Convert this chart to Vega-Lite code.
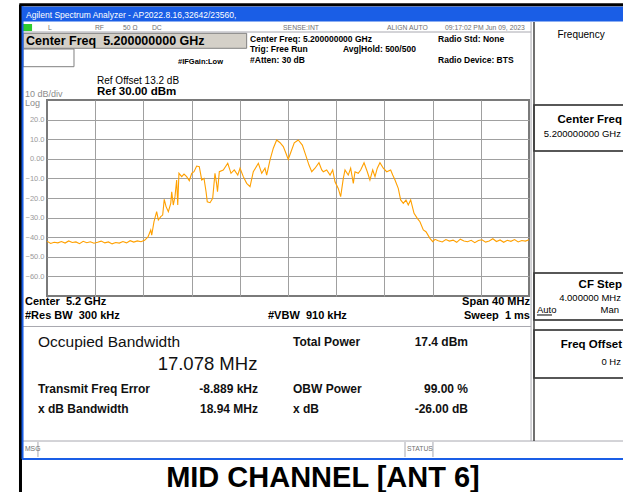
{
"$schema": "https://vega.github.io/schema/vega-lite/v6.json",
"width": 482, "height": 196,
"autosize": {"type": "none"},
"padding": {"left": 47, "top": 100, "right": 94, "bottom": 196},
"background": "white",
"config": {"view": {"stroke": "#7a7a7a", "strokeWidth": 2}, "font": "Liberation Sans", "text": {"font": "Liberation Sans"}},
"encoding": {
"x": {"field":"x","type":"quantitative","scale":{"domain":[-20,20],"nice":false,"zero":false},"axis":{"values":[-16,-12,-8,-4,0,4,8,12,16],"labels":false,"ticks":false,"domain":false,"title":null,"grid":true,"gridColor":"#a0a0a0","gridOpacity":1}},
"y": {"field":"y","type":"quantitative","scale":{"domain":[-70,30],"nice":false,"zero":false},"axis":{"values":[-60,-50,-40,-30,-20,-10,0,10,20],"ticks":false,"domain":false,"title":null,"grid":true,"gridColor":"#a0a0a0","gridOpacity":1,"labelColor":"#9a9a9a","labelFontSize":7.5,"labelFont":"Liberation Sans","labelPadding":3,"labelExpr":"datum.value == 0 ? '0.00' : format(datum.value, '.1f')"}}
},
"datasets": {
"trace": [
{"x":-20,"y":-42.0},{"x":-19.7,"y":-43.2},{"x":-19.4,"y":-42.6},{"x":-19.1,"y":-42.9},{"x":-18.8,"y":-42.2},{"x":-18.5,"y":-43.0},{"x":-18.2,"y":-41.9},{"x":-17.9,"y":-42.7},{"x":-17.6,"y":-42.4},{"x":-17.3,"y":-43.3},{"x":-17.0,"y":-42.1},{"x":-16.7,"y":-42.8},{"x":-16.4,"y":-42.3},{"x":-16.1,"y":-43.1},{"x":-15.8,"y":-42.6},{"x":-15.5,"y":-42.0},{"x":-15.2,"y":-42.9},{"x":-14.9,"y":-42.4},{"x":-14.6,"y":-43.4},{"x":-14.3,"y":-42.7},{"x":-14.0,"y":-43.0},{"x":-13.7,"y":-42.2},{"x":-13.4,"y":-42.9},{"x":-13.1,"y":-41.8},{"x":-12.8,"y":-42.5},{"x":-12.5,"y":-41.9},{"x":-12.2,"y":-42.3},{"x":-11.9,"y":-41.6},
{"x":-11.62,"y":-39.9},{"x":-11.39,"y":-36.3},{"x":-11.31,"y":-38.9},{"x":-11.12,"y":-32.1},{"x":-10.9,"y":-27.0},{"x":-10.76,"y":-31.2},{"x":-10.56,"y":-29.5},{"x":-10.4,"y":-28.7},{"x":-10.27,"y":-20.7},{"x":-10.12,"y":-24.4},{"x":-9.93,"y":-27.0},{"x":-9.73,"y":-22.7},{"x":-9.65,"y":-16.8},{"x":-9.52,"y":-23.6},{"x":-9.38,"y":-19.3},{"x":-9.24,"y":-10.8},{"x":-9.15,"y":-23.6},{"x":-9.05,"y":-7.4},{"x":-8.82,"y":-9.1},{"x":-8.63,"y":-7.8},{"x":-8.41,"y":-9.1},{"x":-8.19,"y":-11.2},{"x":-7.99,"y":-7.4},{"x":-7.8,"y":-6.6},{"x":-7.58,"y":-3.7},{"x":-7.36,"y":-4.0},{"x":-7.16,"y":-10.8},{"x":-6.97,"y":-10.0},{"x":-6.8,"y":-16.8},{"x":-6.7,"y":-21.9},{"x":-6.47,"y":-22.4},{"x":-6.25,"y":-20.2},{"x":-6.06,"y":-7.4},{"x":-5.93,"y":-12.5},{"x":-5.85,"y":-16.8},{"x":-5.7,"y":-6.6},{"x":-5.37,"y":-5.7},{"x":-5.0,"y":-2.3},{"x":-4.73,"y":-7.4},{"x":-4.46,"y":-5.7},{"x":-4.17,"y":-8.3},{"x":-3.98,"y":-4.8},{"x":-3.71,"y":-9.1},{"x":-3.43,"y":-12.5},{"x":-3.15,"y":-14.2},{"x":-2.88,"y":-6.6},{"x":-2.46,"y":-2.3},{"x":-2.18,"y":-7.4},{"x":-1.91,"y":-4.8},{"x":-1.77,"y":-8.3},{"x":-1.49,"y":-0.6},{"x":-1.22,"y":5.4},{"x":-0.94,"y":9.6},{"x":-0.66,"y":8.2},{"x":-0.39,"y":6.2},{"x":-0.17,"y":2.8},{"x":0.02,"y":-0.3},{"x":0.25,"y":3.6},{"x":0.52,"y":8.2},{"x":0.85,"y":9.6},{"x":1.19,"y":7.0},{"x":1.47,"y":1.9},{"x":1.74,"y":-3.2},{"x":1.97,"y":-6.6},{"x":2.24,"y":-4.8},{"x":2.57,"y":-2.0},{"x":2.8,"y":-5.7},{"x":2.93,"y":-6.6},{"x":3.21,"y":-5.7},{"x":3.49,"y":-8.3},{"x":3.71,"y":-5.7},{"x":3.9,"y":-11.7},{"x":4.17,"y":-15.1},{"x":4.37,"y":-19.3},{"x":4.59,"y":-10.0},{"x":4.73,"y":-5.7},{"x":5.0,"y":-8.3},{"x":5.2,"y":-4.8},{"x":5.42,"y":-12.5},{"x":5.56,"y":-6.6},{"x":5.83,"y":-7.4},{"x":6.03,"y":-5.7},{"x":6.31,"y":-2.0},{"x":6.58,"y":-6.6},{"x":6.8,"y":-10.8},{"x":7.03,"y":-5.7},{"x":7.22,"y":-9.1},{"x":7.41,"y":-4.8},{"x":7.63,"y":-2.0},{"x":7.91,"y":-4.8},{"x":8.19,"y":-6.6},{"x":8.52,"y":-5.7},{"x":8.69,"y":-8.3},{"x":8.88,"y":-10.8},{"x":9.15,"y":-15.1},{"x":9.35,"y":-21.0},{"x":9.57,"y":-22.7},{"x":9.79,"y":-21.0},{"x":9.98,"y":-23.6},{"x":10.18,"y":-21.0},{"x":10.46,"y":-27.8},{"x":10.73,"y":-30.4},{"x":10.95,"y":-32.1},{"x":11.23,"y":-36.3},{"x":11.45,"y":-37.2},{"x":11.78,"y":-40.6},{"x":12.01,"y":-42.3},{"x":12.2,"y":-41.1},{"x":12.47,"y":-41.8},
{"x":12.8,"y":-42.4},{"x":13.1,"y":-41.2},{"x":13.4,"y":-42.0},{"x":13.7,"y":-41.5},{"x":14.0,"y":-42.6},{"x":14.3,"y":-41.0},{"x":14.6,"y":-41.9},{"x":14.9,"y":-42.3},{"x":15.2,"y":-41.6},{"x":15.5,"y":-42.8},{"x":15.8,"y":-41.7},{"x":16.1,"y":-41.3},{"x":16.4,"y":-42.5},{"x":16.7,"y":-41.9},{"x":17.0,"y":-40.8},{"x":17.3,"y":-42.2},{"x":17.6,"y":-41.4},{"x":17.9,"y":-42.6},{"x":18.2,"y":-41.6},{"x":18.5,"y":-42.1},{"x":18.8,"y":-41.2},{"x":19.1,"y":-42.4},{"x":19.4,"y":-41.7},{"x":19.7,"y":-42.0},{"x":20.0,"y":-41.3}
],
"titlebar": [{"x":-22.07,"x2":28.2,"y":77.7,"y2":70.05}],
"graybox": [{"x":-21.97,"x2":-3.43,"y":64.03,"y2":56.38}],
"whitebox": [{"x":-21.99,"x2":-17.76,"y":56.02,"y2":46.99}],
"lxi": [{"x":-21.99,"x2":-21.24,"y":68.78,"y2":65.2}],
"skboxes": [{"x":20.415,"x2":28.4,"y":27.45,"y2":3.98},{"x":20.415,"x2":28.4,"y":-58.27,"y2":-82.24},{"x":20.415,"x2":28.4,"y":-87.35,"y2":-111.84}],
"blackrules": [{"x":-22.2,"x2":-22.2,"y":78.6,"y2":-171},{"x":-22.3,"x2":28.4,"y":78.6,"y2":78.6}],
"grayrules": [{"x":-22.07,"x2":20.17,"y":-85.56,"y2":-85.56},{"x":-22.07,"x2":28.4,"y":-143.98,"y2":-143.98},{"x":20.17,"x2":20.17,"y":69.8,"y2":-143.98},{"x":-22.07,"x2":20.17,"y":64.69,"y2":64.69},{"x":-20.75,"x2":-20.75,"y":-144.49,"y2":-152.14},{"x":9.71,"x2":9.71,"y":-144.49,"y2":-152.14},{"x":12.03,"x2":12.03,"y":-144.49,"y2":-152.14}],
"darkrules": [{"x":20.415,"x2":20.415,"y":69.8,"y2":-143.98}],
"bluerules": [{"x":-22.03,"x2":-22.03,"y":77.96,"y2":-153.16},{"x":-22.07,"x2":28.4,"y":-153.16,"y2":-153.16}],
"underline": [{"x":20.66,"x2":21.91,"y":-79.69,"y2":-79.69}],
"title": [{"t":"Agilent Spectrum Analyzer - AP2022.8.16,32642/23560,","x":-21.74,"y":73.37}],
"status": [{"t":"L","x":-19.92,"y":66.73},{"t":"RF","x":-16.02,"y":66.73},{"t":"50 Ω","x":-13.69,"y":66.73},{"t":"DC","x":-11.29,"y":66.73},{"t":"SENSE:INT","x":-0.41,"y":66.73},{"t":"ALIGN AUTO","x":8.22,"y":66.73},{"t":"09:17:02 PM Jun 09, 2023","x":13.03,"y":66.73},{"t":"MSG","x":-21.83,"y":-148.06},{"t":"STATUS","x":9.88,"y":-148.06}],
"bigfreq": [{"t":"Center Freq\u00a0 5.200000000 GHz","x":-21.74,"y":60.1}],
"header": [{"t":"Center Freq: 5.200000000 GHz","x":-3.15,"y":60.87},{"t":"Trig: Free Run","x":-3.15,"y":55.77},{"t":"#Atten: 30 dB","x":-3.15,"y":50.66},{"t":"Avg|Hold: 500/500","x":4.56,"y":55.77},{"t":"Radio Std: None","x":12.45,"y":60.87},{"t":"Radio Device: BTS","x":12.45,"y":50.41}],
"ifgain": [{"t":"#IFGain:Low","x":-9.13,"y":49.64}],
"refoff": [{"t":"Ref Offset 13.2 dB","x":-15.85,"y":39.44}],
"refval": [{"t":"Ref 30.00 dBm","x":-15.85,"y":33.83}],
"graylab": [{"t":"10 dB/div","x":-21.83,"y":33.3},{"t":"Log","x":-21.83,"y":28.5}],
"bottomL": [{"t":"Center\u00a0 5.2 GHz","x":-21.83,"y":-72.81},{"t":"#Res BW\u00a0 300 kHz","x":-21.83,"y":-80.2},{"t":"#VBW\u00a0 910 kHz","x":-1.66,"y":-80.2}],
"bottomR": [{"t":"Span 40 MHz","x":20.08,"y":-72.81},{"t":"Sweep\u00a0 1 ms","x":20.08,"y":-80.2}],
"obwTitle": [{"t":"Occupied Bandwidth","x":-20.75,"y":-93.72}],
"obwVal": [{"t":"17.078 MHz","x":-6.68,"y":-104.44}],
"resL": [{"t":"Transmit Freq Error","x":-20.75,"y":-117.45},{"t":"x dB Bandwidth","x":-20.75,"y":-127.65},{"t":"Total Power","x":0.415,"y":-93.72},{"t":"OBW Power","x":0.415,"y":-117.45},{"t":"x dB","x":0.415,"y":-127.65}],
"resR": [{"t":"-8.889 kHz","x":-2.49,"y":-117.45},{"t":"18.94 MHz","x":-2.49,"y":-127.65},{"t":"17.4 dBm","x":14.94,"y":-93.72},{"t":"99.00 %","x":14.94,"y":-117.45},{"t":"-26.00 dB","x":14.94,"y":-127.65}],
"skTitle": [{"t":"Frequency","x":24.32,"y":63.16}],
"skBold": [{"t":"Center Freq","x":27.72,"y":19.8},{"t":"CF Step","x":27.72,"y":-64.39},{"t":"Freq Offset","x":27.72,"y":-95.0}],
"skReg": [{"t":"5.200000000 GHz","x":27.63,"y":12.65},{"t":"4.000000 MHz","x":27.63,"y":-70.77},{"t":"0 Hz","x":27.63,"y":-103.67},{"t":"Man","x":27.47,"y":-77.14}],
"skLeft": [{"t":"Auto","x":20.66,"y":-77.14}],
"caption": [{"t":"MID CHANNEL [ANT 6]","x":2.9,"y":-162.86}]
},
"layer": [
{"data":{"name":"titlebar"},"mark":{"type":"rect","fill":"#1a5ee6","clip":false},"encoding":{"x2":{"field":"x2"},"y2":{"field":"y2"}}},
{"data":{"name":"graybox"},"mark":{"type":"rect","fill":"#d4d0c8","stroke":"#808080","strokeWidth":1,"clip":false},"encoding":{"x2":{"field":"x2"},"y2":{"field":"y2"}}},
{"data":{"name":"whitebox"},"mark":{"type":"rect","fill":"#ffffff","stroke":"#808080","strokeWidth":1,"clip":false},"encoding":{"x2":{"field":"x2"},"y2":{"field":"y2"}}},
{"data":{"name":"lxi"},"mark":{"type":"rect","fill":"#2ecc2e","clip":false},"encoding":{"x2":{"field":"x2"},"y2":{"field":"y2"}}},
{"data":{"name":"skboxes"},"mark":{"type":"rect","fill":null,"fillOpacity":0,"stroke":"#202020","strokeWidth":1.5,"clip":false},"encoding":{"x2":{"field":"x2"},"y2":{"field":"y2"}}},
{"data":{"name":"blackrules"},"mark":{"type":"rule","color":"#000000","strokeWidth":3,"clip":false},"encoding":{"x2":{"field":"x2"},"y2":{"field":"y2"}}},
{"data":{"name":"grayrules"},"mark":{"type":"rule","color":"#a8a8b0","strokeWidth":1,"clip":false},"encoding":{"x2":{"field":"x2"},"y2":{"field":"y2"}}},
{"data":{"name":"darkrules"},"mark":{"type":"rule","color":"#404040","strokeWidth":1.5,"clip":false},"encoding":{"x2":{"field":"x2"},"y2":{"field":"y2"}}},
{"data":{"name":"bluerules"},"mark":{"type":"rule","color":"#1a5ee6","strokeWidth":2,"clip":false},"encoding":{"x2":{"field":"x2"},"y2":{"field":"y2"}}},
{"data":{"name":"underline"},"mark":{"type":"rule","color":"#000000","strokeWidth":1,"clip":false},"encoding":{"x2":{"field":"x2"},"y2":{"field":"y2"}}},
{"data":{"name":"trace"},"mark":{"type":"line","color":"#ffa000","strokeWidth":1.1,"interpolate":"linear"},"encoding":{}},
{"data":{"name":"title"},"mark":{"type":"text","align":"left","baseline":"middle","color":"#ffffff","fontSize":8.5,"clip":false},"encoding":{"text":{"field":"t"}}},
{"data":{"name":"status"},"mark":{"type":"text","align":"left","baseline":"middle","color":"#707070","fontSize":6.8,"clip":false},"encoding":{"text":{"field":"t"}}},
{"data":{"name":"bigfreq"},"mark":{"type":"text","align":"left","baseline":"middle","color":"#000000","fontSize":12.5,"fontWeight":"bold","clip":false},"encoding":{"text":{"field":"t"}}},
{"data":{"name":"header"},"mark":{"type":"text","align":"left","baseline":"middle","color":"#000000","fontSize":8.5,"fontWeight":"bold","clip":false},"encoding":{"text":{"field":"t"}}},
{"data":{"name":"ifgain"},"mark":{"type":"text","align":"left","baseline":"middle","color":"#000000","fontSize":7.5,"fontWeight":"bold","clip":false},"encoding":{"text":{"field":"t"}}},
{"data":{"name":"refoff"},"mark":{"type":"text","align":"left","baseline":"middle","color":"#000000","fontSize":10,"clip":false},"encoding":{"text":{"field":"t"}}},
{"data":{"name":"refval"},"mark":{"type":"text","align":"left","baseline":"middle","color":"#000000","fontSize":11.5,"fontWeight":"bold","clip":false},"encoding":{"text":{"field":"t"}}},
{"data":{"name":"graylab"},"mark":{"type":"text","align":"left","baseline":"middle","color":"#8c8c8c","fontSize":9,"clip":false},"encoding":{"text":{"field":"t"}}},
{"data":{"name":"bottomL"},"mark":{"type":"text","align":"left","baseline":"middle","color":"#000000","fontSize":11,"fontWeight":"bold","clip":false},"encoding":{"text":{"field":"t"}}},
{"data":{"name":"bottomR"},"mark":{"type":"text","align":"right","baseline":"middle","color":"#000000","fontSize":11,"fontWeight":"bold","clip":false},"encoding":{"text":{"field":"t"}}},
{"data":{"name":"obwTitle"},"mark":{"type":"text","align":"left","baseline":"middle","color":"#111111","fontSize":15.5,"clip":false},"encoding":{"text":{"field":"t"}}},
{"data":{"name":"obwVal"},"mark":{"type":"text","align":"center","baseline":"middle","color":"#111111","fontSize":18.5,"clip":false},"encoding":{"text":{"field":"t"}}},
{"data":{"name":"resL"},"mark":{"type":"text","align":"left","baseline":"middle","color":"#111111","fontSize":12,"fontWeight":"bold","clip":false},"encoding":{"text":{"field":"t"}}},
{"data":{"name":"resR"},"mark":{"type":"text","align":"right","baseline":"middle","color":"#111111","fontSize":12,"fontWeight":"bold","clip":false},"encoding":{"text":{"field":"t"}}},
{"data":{"name":"skTitle"},"mark":{"type":"text","align":"center","baseline":"middle","color":"#000000","fontSize":10,"clip":false},"encoding":{"text":{"field":"t"}}},
{"data":{"name":"skBold"},"mark":{"type":"text","align":"right","baseline":"middle","color":"#000000","fontSize":11.5,"fontWeight":"bold","clip":false},"encoding":{"text":{"field":"t"}}},
{"data":{"name":"skReg"},"mark":{"type":"text","align":"right","baseline":"middle","color":"#000000","fontSize":9.5,"clip":false},"encoding":{"text":{"field":"t"}}},
{"data":{"name":"skLeft"},"mark":{"type":"text","align":"left","baseline":"middle","color":"#000000","fontSize":9.5,"clip":false},"encoding":{"text":{"field":"t"}}},
{"data":{"name":"caption"},"mark":{"type":"text","align":"center","baseline":"middle","color":"#000000","fontSize":29,"fontWeight":"bold","clip":false},"encoding":{"text":{"field":"t"}}}
]
}
